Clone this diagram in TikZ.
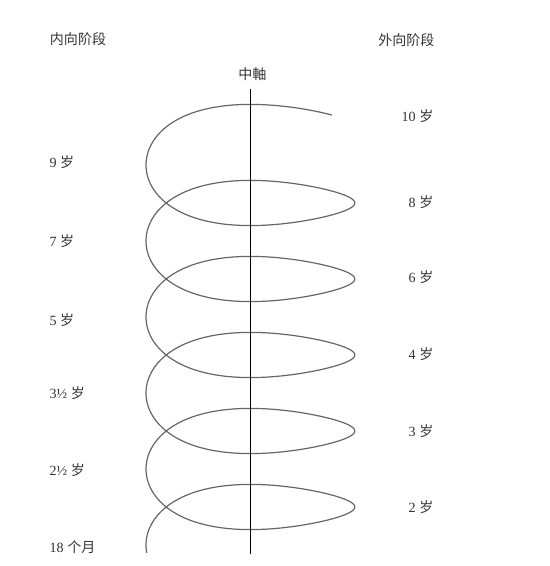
\documentclass[tikz,border=0pt]{standalone}
\usepackage{fontspec}
\setmainfont{Liberation Serif}
\newfontfamily\cjk{Noto Sans CJK SC}
\usetikzlibrary{positioning}

\begin{document}
\begin{tikzpicture}[every node/.style={text=black!80, inner sep=1pt}, age/.style={font=\normalsize}]
\useasboundingbox (0,0) rectangle (13.75,14.15);
\draw[black!60, line width=.3mm, line join=round] plot[domain=-0.12:33.886, samples=800, variable=\t] ({6.26-2.61*cos(\t r)}, {0.525+0.3024*\t+1.04*sin(\t r)+0.1512*sin(2*\t r)});
\coordinate (axtop) at (6.26,11.925);
\coordinate (axbot) at (6.26,0.3);
\draw[black, line width=.25mm] (axtop) -- (axbot);
\node (axis) at (6.31,12.3) {\cjk 中軸};
\node (inner) at (1.95,13.175) {\cjk 内向阶段};
\node (outer) at (10.16,13.15) {\cjk 外向阶段};
\node[age, anchor=west] (in9) at (1.2,10.1) {9 {\cjk 岁}};
\node[age, anchor=west] (in7) at (1.2,8.125) {7 {\cjk 岁}};
\node[age, anchor=west] (in5) at (1.2,6.15) {5 {\cjk 岁}};
\node[age, anchor=west] (in35) at (1.2,4.325) {3½ {\cjk 岁}};
\node[age, anchor=west] (in25) at (1.2,2.4) {2½ {\cjk 岁}};
\node[age, anchor=west] (in18) at (1.2,0.475) {18 {\cjk 个月}};
\node[age, anchor=east] (out10) at (10.875,11.25) {10 {\cjk 岁}};
\node[age, anchor=east] (out8) at (10.875,9.1) {8 {\cjk 岁}};
\node[age, anchor=east] (out6) at (10.875,7.225) {6 {\cjk 岁}};
\node[age, anchor=east] (out4) at (10.875,5.3) {4 {\cjk 岁}};
\node[age, anchor=east] (out3) at (10.875,3.375) {3 {\cjk 岁}};
\node[age, anchor=east] (out2) at (10.875,1.475) {2 {\cjk 岁}};
\end{tikzpicture}
\end{document}
